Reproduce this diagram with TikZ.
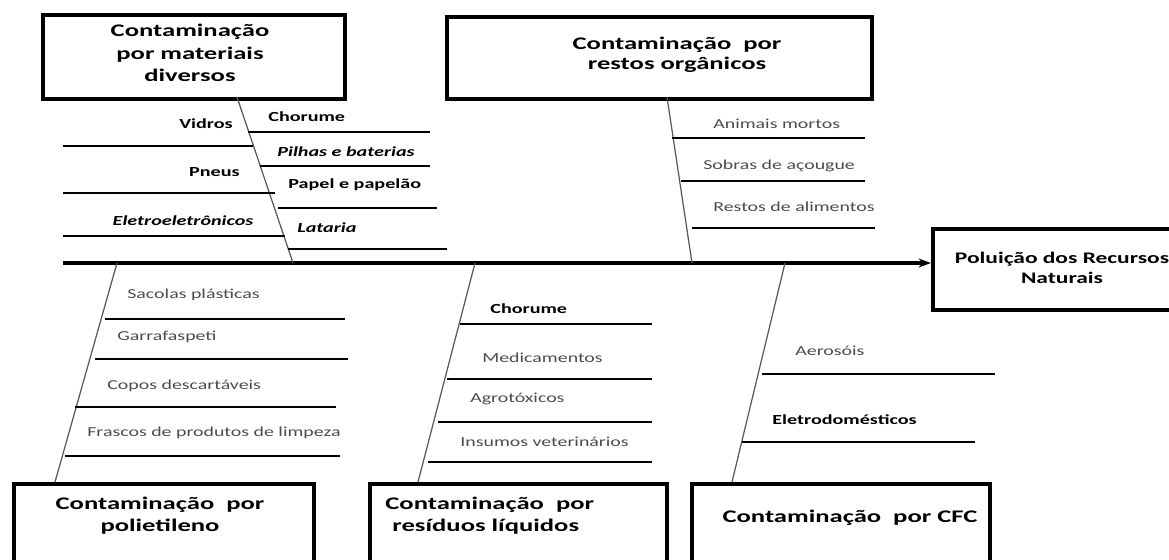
\documentclass[tikz,border=0pt]{standalone}
\usepackage{fontspec}
\setmainfont{Carlito}[FakeStretch=1.45]
\newfontfamily\boxfont{Carlito}[FakeStretch=1.5]
\usetikzlibrary{arrows.meta}
\tikzset{
  box/.style={draw, line width=2.4pt, inner sep=0pt, anchor=north west},
  boxtxt/.style={font=\boxfont\fontsize{10.1}{12.6}\selectfont\bfseries, align=center, inner sep=0pt},
  lab/.style={font=\fontsize{7.8}{9}\selectfont, text=black!70, inner sep=0pt},
  labb/.style={font=\fontsize{7.9}{9}\selectfont\bfseries, text=black, inner sep=0pt},
  labbi/.style={font=\fontsize{7.9}{9}\selectfont\bfseries\itshape, text=black, inner sep=0pt},
  branch/.style={line width=1.3pt},
  bone/.style={line width=0.7pt, draw=black!65},
  spine/.style={line width=1.8pt, -{Stealth[length=7pt,width=5pt]}}
}
\begin{document}
\begin{tikzpicture}[x=0.02cm, y=-0.02cm]
\useasboundingbox (0,0) rectangle (1169,560);
\clip (0,0) rectangle (1169,560);
\fill[white] (0,0) rectangle (1169,560);

% boxes
\node[box, minimum width=6.04cm, minimum height=1.68cm] (c1) at (41,13) {};
\node[box, minimum width=8.5cm, minimum height=1.64cm] (c2) at (445,15) {};
\node[box, minimum width=5.0cm, minimum height=1.62cm] (goal) at (931,227) {};
\node[box, minimum width=6.0cm, minimum height=2.2cm] (c4) at (12,482) {};
\node[box, minimum width=5.94cm, minimum height=2.2cm] (c5) at (368,482) {};
\node[box, minimum width=5.96cm, minimum height=2.2cm] (c6) at (690,482) {};

% box texts
\node[boxtxt, font=\boxfont\fontsize{10.1}{13}\selectfont\bfseries] (t1) at (190,53) {Contaminação\\por materiais\\diversos};
\node[boxtxt, font=\boxfont\fontsize{10.1}{11.4}\selectfont\bfseries] (t2) at (677,55) {Contaminação~~por\\restos orgânicos};
\node[boxtxt, font=\fontsize{9.2}{11.4}\selectfont\bfseries] (t3) at (1062,268) {Poluição dos Recursos\\Naturais};
\node[boxtxt, font=\boxfont\fontsize{10.1}{12.4}\selectfont\bfseries] (t4) at (160,516) {Contaminação~~por\\polietileno};
\node[boxtxt, font=\boxfont\fontsize{10.1}{12.4}\selectfont\bfseries, align=left, anchor=west] (t5) at (385,516) {Contaminação~~por\\\hspace*{0.4em}resíduos líquidos};
\node[boxtxt] (t6) at (850,518) {Contaminação~~por CFC};

% spine
\coordinate (spL) at (63,263);
\draw[spine] (spL) -- (spL -| goal.west);

% bones
\coordinate (b1t) at (237,97);  \coordinate (b1s) at (293,263);
\coordinate (b2t) at (667,97);  \coordinate (b2s) at (692,263);
\coordinate (b3s) at (117,263); \coordinate (b3b) at (55,482);
\coordinate (b4s) at (475,263); \coordinate (b4b) at (418,482);
\coordinate (b5s) at (785,263); \coordinate (b5b) at (732,482);
\draw[bone] (b1t) -- (b1s);
\draw[bone] (b2t) -- (b2s);
\draw[bone] (b3s) -- (b3b);
\draw[bone] (b4s) -- (b4b);
\draw[bone] (b5s) -- (b5b);

% branches: top-left, left side
\draw[branch] (63,146) -- (253,146);
\draw[branch] (63,193) -- (275,193);
\draw[branch] (63,236) -- (285,236);
% top-left, right side
\draw[branch] (248,132) -- (430,132);
\draw[branch] (260,166) -- (430,166);
\draw[branch] (278,208) -- (437,208);
\draw[branch] (288,249) -- (447,249);
% top-middle
\draw[branch] (672,138) -- (865,138);
\draw[branch] (681,181) -- (865,181);
\draw[branch] (692,228) -- (875,228);
% bottom-left
\draw[branch] (105,319) -- (345,319);
\draw[branch] (95,359) -- (348,359);
\draw[branch] (75,407) -- (336,407);
\draw[branch] (65,456) -- (340,456);
% bottom-middle
\draw[branch] (460,324) -- (652,324);
\draw[branch] (447,379) -- (652,379);
\draw[branch] (438,422) -- (652,422);
\draw[branch] (428,462) -- (652,462);
% bottom-right
\draw[branch] (762,374) -- (995,374);
\draw[branch] (742,442) -- (975,442);

% labels
\node[labb, anchor=east] (l1) at (233,124) {Vidros};
\node[labb, anchor=east] (l2) at (240,172) {Pneus};
\node[labbi] (l3) at (183,221) {Eletroeletrônicos};
\node[labb, anchor=west] (l4) at (268,117) {Chorume};
\node[labbi, anchor=west] (l5) at (277,152) {Pilhas e baterias};
\node[labb, anchor=west] (l6) at (288,185) {Papel e papelão};
\node[labbi, anchor=west] (l7) at (297,228) {Lataria};

\node[lab, anchor=west] (l8) at (713,124) {Animais mortos};
\node[lab, anchor=west] (l9) at (703,166) {Sobras de açougue};
\node[lab, anchor=west] (l10) at (713,207) {Restos de alimentos};

\node[lab, anchor=west] (l11) at (127,295) {Sacolas plásticas};
\node[lab, anchor=west] (l12) at (117,337) {Garrafaspeti};
\node[lab, anchor=west] (l13) at (107,386) {Copos descartáveis};
\node[lab, anchor=west] (l14) at (87,433) {Frascos de produtos de limpeza};

\node[labb, anchor=west] (l15) at (490,309) {Chorume};
\node[lab, anchor=west] (l16) at (482,358) {Medicamentos};
\node[lab, anchor=west] (l17) at (470,399) {Agrotóxicos};
\node[lab, anchor=west] (l18) at (460,442) {Insumos veterinários};

\node[lab, anchor=west] (l19) at (795,351) {Aerosóis};
\node[labb, anchor=west] (l20) at (772,420) {Eletrodomésticos};
\end{tikzpicture}
\end{document}
